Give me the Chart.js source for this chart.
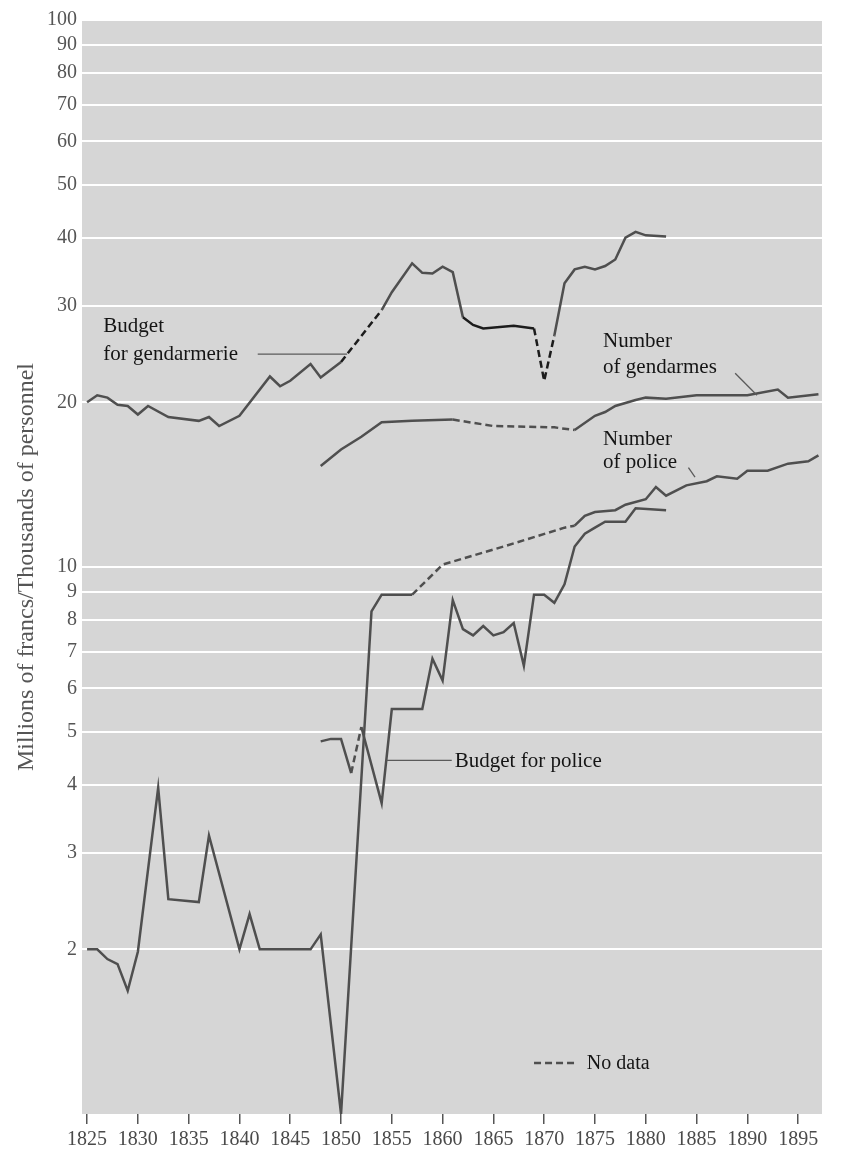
<!DOCTYPE html>
<html>
<head>
<meta charset="utf-8">
<title>Police and gendarmerie, 1825-1895</title>
<script src="https://cdn.jsdelivr.net/npm/chart.js@4.4.1/dist/chart.umd.min.js"></script>
<style>
  html, body { margin: 0; padding: 0; background: #ffffff; }
  #wrap { width: 849px; height: 1152px; }
</style>
</head>
<body>
<div id="wrap"><canvas id="chart" width="849" height="1152"></canvas></div>
<script>
// values (millions of francs / thousands of men)
const yearTicks = [1825, 1830, 1835, 1840, 1845, 1850, 1855, 1860, 1865, 1870, 1875, 1880, 1885, 1890, 1895];
const valueTicks = [2, 3, 4, 5, 6, 7, 8, 9, 10, 20, 30, 40, 50, 60, 70, 80, 90, 100];

const gendBudgetYears = [1825, 1826, 1827, 1828, 1829, 1830, 1831, 1833, 1836, 1837, 1838, 1840, 1843, 1844, 1845, 1847, 1848, 1850,
  1854, 1855, 1857, 1858, 1859, 1860, 1861, 1862, 1863, 1864, 1867, 1869, 1870, 1871, 1872, 1873, 1874, 1875, 1876, 1877, 1878, 1879, 1880, 1882];
const gendBudget = [20.0, 20.6, 20.4, 19.8, 19.7, 19.0, 19.7, 18.8, 18.5, 18.8, 18.1, 18.9, 22.3, 21.4, 21.9, 23.5, 22.2, 23.7,
  29.5, 31.8, 35.9, 34.5, 34.4, 35.4, 34.6, 28.6, 27.7, 27.3, 27.6, 27.3, 21.9, 26.5, 33.0, 35.0, 35.4, 35.0, 35.5, 36.5, 40.0, 41.0, 40.4, 40.2];
const gendBudgetNoData = [[1850, 1854], [1869, 1871]];
const gendBudgetDark = [[1850, 1854], [1862, 1871]];

const gendarmesYears = [1848, 1850, 1852, 1854, 1857, 1861, 1865, 1871, 1873, 1875, 1876, 1877, 1879, 1880, 1882, 1885, 1890, 1893, 1894, 1897];
const gendarmes = [15.3, 16.4, 17.3, 18.4, 18.5, 18.6, 18.1, 18.0, 17.8, 18.9, 19.2, 19.7, 20.2, 20.4, 20.3, 20.6, 20.6, 21.1, 20.4, 20.7];
const gendarmesNoData = [[1861, 1873]];

const policeYears = [1825, 1826, 1827, 1828, 1829, 1830, 1832, 1833, 1836, 1837, 1840, 1841, 1842, 1847, 1848, 1850, 1853, 1854, 1857,
  1860, 1866, 1872, 1873, 1874, 1875, 1877, 1878, 1880, 1881, 1882, 1884, 1886, 1887, 1889, 1890, 1892, 1894, 1896, 1897];
const police = [2.0, 2.0, 1.92, 1.88, 1.68, 1.98, 3.95, 2.47, 2.44, 3.23, 2.0, 2.32, 2.0, 2.0, 2.13, 1.0, 8.3, 8.9, 8.9,
  10.1, 10.9, 11.8, 11.9, 12.4, 12.6, 12.7, 13.0, 13.3, 14.0, 13.5, 14.1, 14.35, 14.65, 14.5, 15.0, 15.0, 15.45, 15.6, 16.0];
const policeNoData = [[1857, 1873]];

const policeBudgetYears = [1848, 1849, 1850, 1851, 1852, 1854, 1855, 1856, 1857, 1858, 1859, 1860, 1861, 1862, 1863, 1864, 1865,
  1866, 1867, 1868, 1869, 1870, 1871, 1872, 1873, 1874, 1875, 1876, 1878, 1879, 1882];
const policeBudget = [4.8, 4.85, 4.85, 4.2, 5.1, 3.7, 5.5, 5.5, 5.5, 5.5, 6.8, 6.2, 8.7, 7.7, 7.5, 7.8, 7.5,
  7.6, 7.9, 6.6, 8.9, 8.9, 8.6, 9.3, 10.9, 11.5, 11.8, 12.1, 12.1, 12.8, 12.7];
const policeBudgetNoData = [[1851, 1852]];

// labels placed in data coordinates
const labels = [
  { text: 'Budget', x: 1826.6, y: 26.9 },
  { text: 'for gendarmerie', x: 1826.6, y: 23.9 },
  { text: 'Number', x: 1875.8, y: 25.2 },
  { text: 'of gendarmes', x: 1875.8, y: 22.6 },
  { text: 'Number', x: 1875.8, y: 16.7 },
  { text: 'of police', x: 1875.8, y: 15.2 },
  { text: 'Budget for police', x: 1861.2, y: 4.31 },
  { text: 'No data', x: 1874.2, y: 1.209, size: 20 }
];
const leaders = [
  { x0: 1841.8, y0: 24.5, x1: 1850.6, y1: 24.5 },
  { x0: 1888.8, y0: 22.6, x1: 1890.95, y1: 20.6 },
  { x0: 1884.2, y0: 15.2, x1: 1884.85, y1: 14.6 },
  { x0: 1854.5, y0: 4.43, x1: 1860.9, y1: 4.43 }
];
const legendDash = { x0: 1869.0, x1: 1873.3, y: 1.24 };

const FONT = "'Liberation Serif', 'Times New Roman', serif";
const LINE = '#4f4f4f';
const DARK = '#1c1c1c';

function points(xs, ys) {
  return xs.map((x, i) => ({ x: x, y: ys[i] }));
}

function inRanges(ctx, ranges) {
  const a = ctx.p0.parsed.x, b = ctx.p1.parsed.x;
  return ranges.some(r => a >= r[0] && b <= r[1]);
}

function series(xs, ys, noData, dark) {
  return {
    data: points(xs, ys),
    borderColor: LINE,
    borderWidth: 2.5,
    pointRadius: 0,
    tension: 0,
    fill: false,
    segment: {
      borderDash: ctx => inRanges(ctx, noData) ? [7, 4] : undefined,
      borderColor: ctx => (dark && inRanges(ctx, dark)) ? DARK : undefined
    }
  };
}

const paperPlugin = {
  id: 'paper',
  beforeDraw(chart) {
    const { ctx, chartArea: a } = chart;
    ctx.save();
    ctx.fillStyle = '#ffffff';
    ctx.fillRect(0, 0, chart.width, chart.height);
    ctx.fillStyle = '#d6d6d6';
    ctx.fillRect(a.left, a.top, a.right - a.left, a.bottom - a.top);
    ctx.restore();
  },
  afterDraw(chart) {
    const { ctx, chartArea: a } = chart;
    const xs = chart.scales.x, ys = chart.scales.y;
    ctx.save();

    // leader lines
    ctx.strokeStyle = '#5a5a5a';
    ctx.lineWidth = 1.3;
    leaders.forEach(l => {
      ctx.beginPath();
      ctx.moveTo(xs.getPixelForValue(l.x0), ys.getPixelForValue(l.y0));
      ctx.lineTo(xs.getPixelForValue(l.x1), ys.getPixelForValue(l.y1));
      ctx.stroke();
    });

    // "no data" key
    ctx.strokeStyle = LINE;
    ctx.lineWidth = 2.5;
    ctx.setLineDash([7, 4]);
    ctx.beginPath();
    ctx.moveTo(xs.getPixelForValue(legendDash.x0), ys.getPixelForValue(legendDash.y));
    ctx.lineTo(xs.getPixelForValue(legendDash.x1), ys.getPixelForValue(legendDash.y));
    ctx.stroke();
    ctx.setLineDash([]);

    // annotations
    ctx.fillStyle = '#151515';
    ctx.textAlign = 'left';
    ctx.textBaseline = 'alphabetic';
    labels.forEach(t => {
      ctx.font = (t.size || 21) + 'px ' + FONT;
      ctx.fillText(t.text, xs.getPixelForValue(t.x), ys.getPixelForValue(t.y));
    });

    // axis title
    ctx.translate(27, (a.top + a.bottom) / 2);
    ctx.rotate(-Math.PI / 2);
    ctx.font = '24px ' + FONT;
    ctx.fillStyle = '#555555';
    ctx.textAlign = 'center';
    ctx.textBaseline = 'middle';
    ctx.fillText('Millions of francs/Thousands of personnel', 0, 0);
    ctx.restore();
  }
};

new Chart(document.getElementById('chart'), {
  type: 'line',
  data: {
    datasets: [
      series(gendBudgetYears, gendBudget, gendBudgetNoData, gendBudgetDark),
      series(gendarmesYears, gendarmes, gendarmesNoData),
      series(policeYears, police, policeNoData),
      series(policeBudgetYears, policeBudget, policeBudgetNoData)
    ]
  },
  options: {
    responsive: false,
    animation: false,
    layout: { padding: { top: 20, right: 27, left: 0, bottom: 0 } },
    plugins: { legend: { display: false }, tooltip: { enabled: false } },
    scales: {
      x: {
        type: 'linear',
        min: 1824.5,
        max: 1897.35,
        afterBuildTicks: s => { s.ticks = yearTicks.map(v => ({ value: v })); },
        afterFit: s => { s.height = 38; },
        grid: { drawOnChartArea: false, drawTicks: true, tickLength: 10, color: '#555555', lineWidth: 1.5 },
        border: { display: false },
        ticks: {
          font: { family: FONT, size: 20 },
          color: '#4a4a4a',
          padding: 4,
          maxRotation: 0,
          autoSkip: false,
          callback: v => String(v)
        }
      },
      y: {
        type: 'logarithmic',
        min: 1,
        max: 100,
        afterBuildTicks: s => { s.ticks = valueTicks.map(v => ({ value: v })); },
        afterFit: s => { s.width = 82; },
        grid: { color: '#ffffff', lineWidth: 2, drawTicks: false },
        border: { display: false },
        ticks: {
          font: { family: FONT, size: 20 },
          color: '#555555',
          padding: 5,
          autoSkip: false,
          callback: v => String(v)
        }
      }
    }
  },
  plugins: [paperPlugin]
});
</script>
</body>
</html>
